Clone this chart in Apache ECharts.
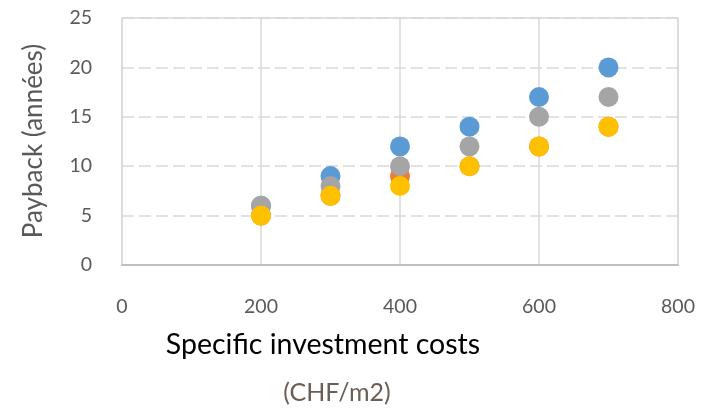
<!DOCTYPE html>
<html>
<head>
<meta charset="utf-8">
<script src="https://cdn.jsdelivr.net/npm/echarts@6/dist/echarts.min.js"></script>
<style>
  html, body { margin: 0; padding: 0; background: #fff; }
  #chart { width: 714px; height: 418px; }
</style>
</head>
<body>
<div id="chart"></div>
<script>
// Specific investment cost (CHF/m2) on the x axis
const costs = [200, 300, 400, 500, 600, 700];
// Payback period in years for each scenario
const paybackBlue   = [6, 9, 12, 14, 17, 20];
const paybackOrange = [5, 7, 9, 10, 12, 14];
const paybackGray   = [6, 8, 10, 12, 15, 17];
const paybackYellow = [5, 7, 8, 10, 12, 14];
// Axis ticks
const xTicks = [0, 200, 400, 600, 800];
const yTicks = [0, 5, 10, 15, 20, 25];

const FONT = 'Lato';
const pair = (ys) => costs.map((c, i) => [c, ys[i]]);

const series = [
  ['Blue', paybackBlue, '#5B9BD5'],
  ['Orange', paybackOrange, '#ED7D31'],
  ['Gray', paybackGray, '#A5A5A5'],
  ['Yellow', paybackYellow, '#FFC000']
].map(([name, ys, color]) => ({
  name,
  type: 'scatter',
  data: pair(ys),
  symbol: 'circle',
  symbolSize: 20,
  itemStyle: { color, opacity: 1 },
  emphasis: { disabled: true }
}));

const chart = echarts.init(document.getElementById('chart'), null, { renderer: 'canvas' });
chart.setOption({
  animation: false,
  grid: {
    left: 122, right: 36, top: 18, bottom: 153,
    show: true, borderColor: '#d9d9d9', borderWidth: 1.5
  },
  xAxis: {
    type: 'value',
    min: xTicks[0], max: xTicks[xTicks.length - 1], interval: 200,
    axisLine: { show: true, lineStyle: { color: '#bfbfbf', width: 2 } },
    axisTick: { show: false },
    splitLine: { show: true, lineStyle: { color: '#d9d9d9', width: 1.5, type: 'solid' } },
    axisLabel: { color: '#595959', fontSize: 19.5, fontFamily: FONT, margin: 32 }
  },
  yAxis: {
    type: 'value',
    min: yTicks[0], max: yTicks[yTicks.length - 1], interval: 5,
    axisLine: { show: false },
    axisTick: { show: false },
    splitLine: { show: true, lineStyle: { color: '#d9d9d9', width: 1.5, type: [12, 5] } },
    axisLabel: { color: '#595959', fontSize: 19.5, fontFamily: FONT, margin: 30 }
  },
  graphic: [
    {
      type: 'text', x: 34, y: 141, rotation: Math.PI / 2,
      style: { text: 'Payback (années)', fill: '#595959', fontSize: 26, fontFamily: FONT,
               textAlign: 'center', textVerticalAlign: 'middle' }
    },
    {
      type: 'text', x: 323, y: 345,
      style: { text: 'Specific investment costs', fill: '#000', fontSize: 28.5, fontFamily: FONT,
               textAlign: 'center', textVerticalAlign: 'middle' }
    },
    {
      type: 'text', x: 337, y: 393,
      style: { text: '(CHF/m2)', fill: '#6b5f55', fontSize: 25, fontFamily: FONT,
               textAlign: 'center', textVerticalAlign: 'middle' }
    }
  ],
  series
});
</script>
</body>
</html>
